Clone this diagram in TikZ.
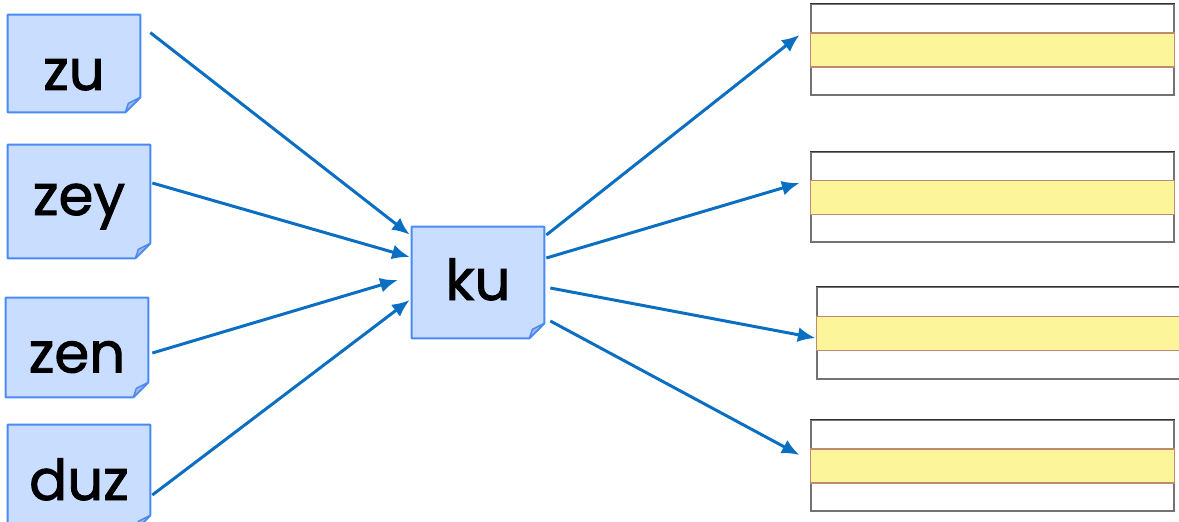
\documentclass[tikz,border=0pt]{standalone}
\usepackage{fontspec}
\setsansfont{Poppins}[FakeBold=1.6]
\usepackage{tikz}
\usetikzlibrary{positioning,arrows.meta,backgrounds}
\definecolor{cardfill}{HTML}{C8DDFF}
\definecolor{cardline}{HTML}{4A8AF4}
\definecolor{flapfill}{HTML}{A8B8D8}
\definecolor{arrowblue}{HTML}{0A6FC2}
\definecolor{bandfill}{HTML}{FDF59A}
\definecolor{bandline}{HTML}{C08A70}
\tikzstyle{note}  = [inner sep=0pt, text depth=0pt, font=\sffamily\fontsize{32}{36}\selectfont]
\tikzstyle{card}  = [fill=cardfill, draw=cardline, line width=1.1pt, line join=round]
\tikzstyle{flap}  = [fill=flapfill, draw=cardline, line width=0.8pt, line join=round]
\tikzstyle{strip} = [draw=black!55, line width=0.7pt, fill=white, inner sep=0pt]
\tikzstyle{band}  = [fill=bandfill, draw=bandline, line width=0.6pt]
\tikzstyle{arrow} = [line width=1.7pt, draw=arrowblue, -{Latex[length=10pt,width=8.5pt]}]

\begin{document}
\begin{tikzpicture}[x=0.02cm,y=-0.02cm]
        \useasboundingbox (0,0) rectangle (1179,521);

        % sound cards
        \node[note, minimum width=2.64cm, minimum height=1.94cm, text height=1.06cm] (zu)  at (74,63.5)   {zu};
        \node[note, minimum width=2.84cm, minimum height=2.26cm, text height=0.80cm, text depth=0.26cm] (zey) at (79,201.5) {zey};
        \node[note, minimum width=2.84cm, minimum height=1.98cm, text height=1.00cm] (zen) at (77,347.5)  {zen};
        \node[note, minimum width=2.84cm, minimum height=2.10cm, text height=0.90cm] (duz) at (79,477.5)  {duz};
        \node[note, minimum width=2.64cm, minimum height=2.22cm, text height=0.70cm] (ku)  at (478,282.5) {ku};

        \begin{scope}[on background layer]
        \foreach \n in {zu,zey,zen,duz,ku}{
            \filldraw[card] (\n.north west) -- (\n.north east) -- ([shift={(0,-15)}]\n.south east)
                -- ([shift={(-15,0)}]\n.south east) -- (\n.south west) -- cycle;
            \filldraw[flap] ([shift={(0,-15)}]\n.south east) -- ([shift={(-15,0)}]\n.south east)
                -- ([shift={(-12,-9)}]\n.south east) -- cycle;
        }
        \end{scope}

        % writing lines
        \node[strip, minimum width=7.26cm, minimum height=1.82cm] (l1) at (992.5,49.5)  {};
        \node[strip, minimum width=7.26cm, minimum height=1.80cm] (l2) at (992.5,197)   {};
        \node[strip, minimum width=7.46cm, minimum height=1.84cm] (l3) at (1003.5,333)  {};
        \node[strip, minimum width=7.26cm, minimum height=1.82cm] (l4) at (992.5,465.5) {};
        \foreach \l in {l1,l2,l3,l4}{
            \draw[band] ([shift={(0,-16.5)}]\l.west) rectangle ([shift={(0,17.5)}]\l.east);
            \draw[black!80, line width=0.8pt] (\l.north west) -- (\l.north east);
        }

        % arrows into ku
        \draw[arrow] ([shift={(10,18)}]zu.north east) -- ([shift={(-2,8)}]ku.north west);
        \draw[arrow] ([shift={(2,-18.5)}]zey.east) -- ([shift={(-2,-25.5)}]ku.west);
        \draw[arrow] ([shift={(4,5.5)}]zen.east) -- ([shift={(-14,-2.5)}]ku.west);
        \draw[arrow] ([shift={(2,17.5)}]duz.east) -- ([shift={(-2,17.5)}]ku.west);

        % arrows out of ku
        \draw[arrow] ([shift={(2,-47.5)}]ku.east) -- ([shift={(-11,-14.5)}]l1.west);
        \draw[arrow] ([shift={(2,-24.5)}]ku.east) -- ([shift={(-11,-14)}]l2.west);
        \draw[arrow] ([shift={(6,5.5)}]ku.east) -- ([shift={(-1,5)}]l3.west);
        \draw[arrow] ([shift={(6,38.5)}]ku.east) -- ([shift={(-11,-10.5)}]l4.west);
\end{tikzpicture}
\end{document}
